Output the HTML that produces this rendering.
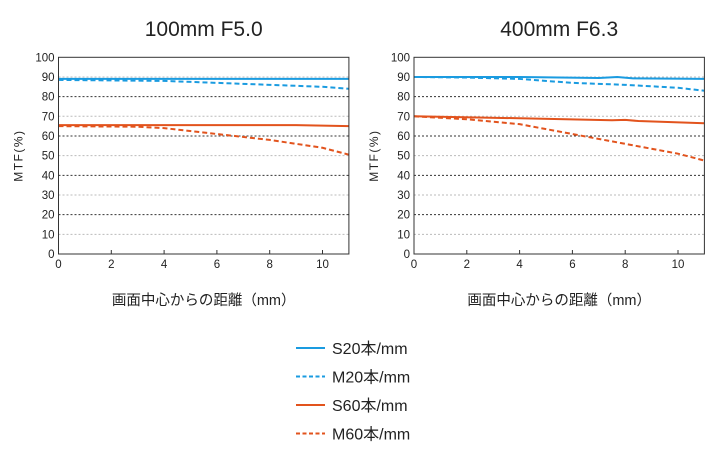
<!DOCTYPE html>
<html><head><meta charset="utf-8"><style>
body{margin:0;background:#fff;width:720px;height:460px;overflow:hidden;font-family:"Liberation Sans","Noto Sans CJK JP",sans-serif}
</style></head><body>
<svg id="s" width="720" height="460" xmlns="http://www.w3.org/2000/svg" font-family="Liberation Sans, Noto Sans CJK JP, sans-serif"></svg>
<script>
const s=document.getElementById('s');let h='';
const Y=v=>254-1.967*v;
function chart(x0,x10,title,data){
 const X=u=>x0+(x10-x0)/10*u, xr=X(11);
 h+=`<text x="${(x0+xr)/2}" y="36" font-size="21" text-anchor="middle" fill="#222">${title}</text>`;
 for(let v=10;v<100;v+=10){const dark=v%20==0;
  h+=`<line x1="${x0}" x2="${xr}" y1="${Y(v)}" y2="${Y(v)}" stroke="${dark?'#333':'#bbb'}" stroke-width="1" stroke-dasharray="2,2"/>`;}
 for(let v=0;v<=100;v+=10)h+=`<text x="${x0-4}" y="${Y(v)+4}" font-size="11.5" text-anchor="end" fill="#222">${v}</text>`;
 for(let u=0;u<=10;u+=2)h+=`<text x="${X(u)}" y="268" font-size="11.5" text-anchor="middle" fill="#222">${u}</text><line x1="${X(u)}" x2="${X(u)}" y1="254" y2="250" stroke="#333"/>`;
 h+=`<text transform="translate(${x0-36},${Y(50)}) rotate(-90)" font-size="12" letter-spacing="1.5" text-anchor="middle" fill="#222">MTF(%)</text>`;
 h+=`<text x="${(x0+xr)/2}" y="305" font-size="14.5" text-anchor="middle" fill="#222">画面中心からの距離（mm）</text>`;
 data.forEach(d=>{const pts=d.p.map(([u,v])=>X(u)+','+Y(v)).join(' ');
  h+=`<polyline points="${pts}" fill="none" stroke="${d.c}" stroke-width="2" ${d.dash?'stroke-dasharray="5,3"':''}/>`;});
 h+=`<rect x="${x0}" y="${Y(100)}" width="${xr-x0}" height="${Y(0)-Y(100)}" fill="none" stroke="#333" stroke-width="1"/>`;
}
const B='#1a9be0',O='#e2531d';
chart(58.5,322.5,'100mm F5.0',[
 {c:B,p:[[0,89],[11,89]]},
 {c:B,dash:1,p:[[0,88.5],[4,88],[6,87],[8,86],[10,85],[11,84]]},
 {c:O,p:[[0,65.5],[9,65.5],[11,65]]},
 {c:O,dash:1,p:[[0,65],[3,64.7],[4,64],[6,61],[8,58],[10,54],[11,50.5]]}]);
chart(414,678,'400mm F6.3',[
 {c:B,p:[[0,90],[4,90],[7,89.5],[7.7,90],[8.3,89.3],[11,89]]},
 {c:B,dash:1,p:[[0,90],[2,89.7],[4,89],[6,87],[8,86],[10,84.5],[11,83]]},
 {c:O,p:[[0,70],[4,69],[7.5,68],[8,68.2],[8.5,67.6],[11,66.5]]},
 {c:O,dash:1,p:[[0,70],[2,68.5],[4,66],[6,61],[8,56],[10,51],[11,47.5]]}]);
const L=[[B,0,'S20本/mm'],[B,1,'M20本/mm'],[O,0,'S60本/mm'],[O,1,'M60本/mm']];
L.forEach((l,i)=>{const y=348+i*28.5;
 h+=`<line x1="296" x2="325" y1="${y}" y2="${y}" stroke="${l[0]}" stroke-width="2" ${l[1]?'stroke-dasharray="4,2.5"':''}/>`;
 h+=`<text x="332" y="${y+6}" font-size="16" fill="#222">${l[2]}</text>`;});
s.innerHTML=h;
</script>
</body></html>
